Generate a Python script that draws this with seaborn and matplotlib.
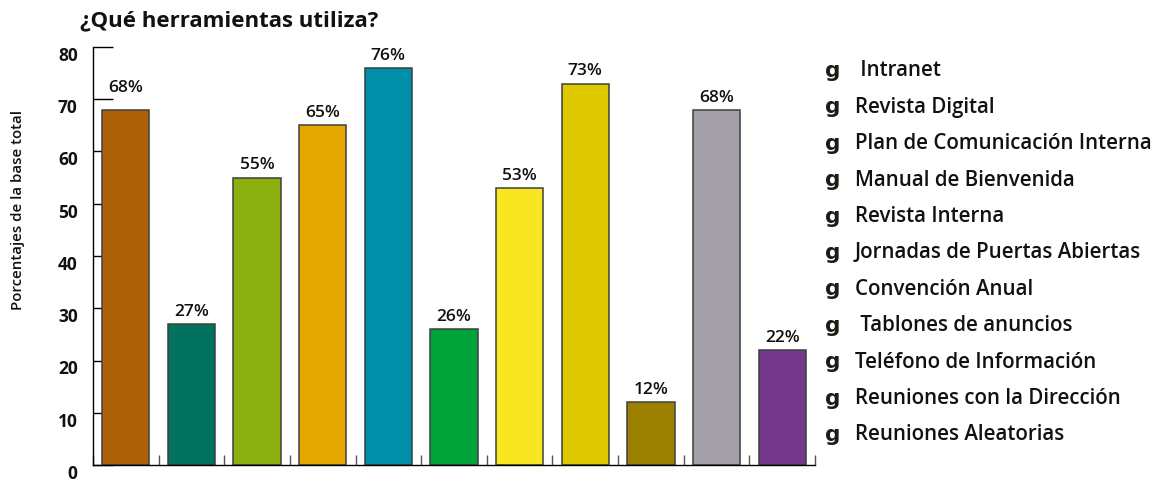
import numpy as np
import pandas as pd
import matplotlib
matplotlib.use("Agg")
import matplotlib.pyplot as plt
import matplotlib.transforms as mtransforms
import seaborn as sns

# Survey results: share of companies using each internal communication tool
herramientas = [
    " Intranet",
    "Revista Digital",
    "Plan de Comunicación Interna",
    "Manual de Bienvenida",
    "Revista Interna",
    "Jornadas de Puertas Abiertas",
    "Convención Anual",
    " Tablones de anuncios",
    "Teléfono de Información",
    "Reuniones con la Dirección",
    "Reuniones Aleatorias",
]
porcentajes = [68, 27, 55, 65, 76, 26, 53, 73, 12, 68, 22]
colores = [
    "#AE6008", "#00725E", "#8CB010", "#E5A800", "#008EAA", "#00A23A",
    "#F7E620", "#DEC800", "#9C8000", "#A4A0AA", "#74388A",
]
yticks = [0, 10, 20, 30, 40, 50, 60, 70, 80]

sns.set_theme(style="white")
plt.rcParams["font.family"] = ["Open Sans", "DejaVu Sans"]

W, H = 1165, 483
fig = plt.figure(figsize=(W / 100, H / 100), dpi=100)
ax = fig.add_axes([93 / W, 1 - 465 / H, (815 - 93) / W, (465 - 47) / H])

df = pd.DataFrame({"herramienta": herramientas, "pct": porcentajes})
sns.barplot(
    data=df, x="herramienta", y="pct", hue="herramienta",
    palette=colores, legend=False, width=0.72, ax=ax,
    edgecolor="#3f3f3f", linewidth=1.1, saturation=1,
)

ax.set_xlim(-0.5, len(herramientas) - 0.5)
ax.set_ylim(0, 80)
ax.set_xlabel("")
ax.set_ylabel("")

# axis styling: inward ticks drawn beneath the bars
ax.set_axisbelow(True)
for side in ("top", "right"):
    ax.spines[side].set_visible(False)
for side in ("left", "bottom"):
    ax.spines[side].set_color("black")
    ax.spines[side].set_linewidth(1.0)

ax.set_xticks(np.arange(-0.5, len(herramientas), 1.0))
ax.set_xticklabels([])
ax.tick_params(axis="x", direction="in", length=7.5, width=1.0, color="#555555", bottom=True)

ax.set_yticks(yticks)
ax.set_yticklabels([str(t) for t in yticks], fontsize=12.5, fontweight="bold", color="#111111")
ax.tick_params(axis="y", direction="in", length=14.4, width=1.0, color="black", left=True, pad=11)
shift = mtransforms.ScaledTranslation(0, -7 / 100, fig.dpi_scale_trans)
for lab in ax.get_yticklabels():
    lab.set_transform(lab.get_transform() + shift)

# value labels above each bar; lift a label clear of a gridline tick it would cross
for patch, val in zip(ax.patches, porcentajes):
    cx = patch.get_x() + patch.get_width() / 2
    lift = 3
    if cx < 0.5 and any(val < t < val + 4 for t in yticks):
        lift = 10
    ax.annotate(
        f"{val}%", (cx, val),
        xytext=(0, lift), textcoords="offset points",
        ha="center", va="bottom", fontsize=12.5, fontweight="semibold", color="#111111",
    )

# title and axis caption
fig.text(80 / W, 1 - 21 / H, "¿Qué herramientas utiliza?", ha="left", va="center",
         fontsize=16, fontweight="bold", color="#111111")
fig.text(18 / W, 1 - 210 / H, "Porcentajes de la base total", rotation=90,
         ha="center", va="center", fontsize=10.8, fontweight="semibold", color="#111111")

# legend as a text list
for i, nombre in enumerate(herramientas):
    y = 1 - (71 + 36.4 * i) / H
    fig.text(825 / W, y, "g", ha="left", va="center", fontsize=15.5,
             family="DejaVu Sans", fontweight="bold", color="#1f1a14")
    fig.text(855 / W, y, nombre, ha="left", va="center", fontsize=14.8,
             fontweight="semibold", color="#111111")

fig.savefig("out.png", dpi=100)
